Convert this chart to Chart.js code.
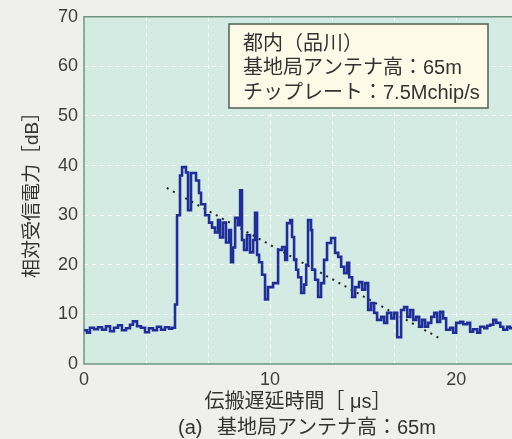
<!DOCTYPE html>
<html>
<head>
<meta charset="utf-8">
<script src="https://cdn.jsdelivr.net/npm/chart.js@4.4.1/dist/chart.umd.min.js"></script>
<style>
  html, body { margin: 0; padding: 0; background: #f0f0ee; }
  #wrap { width: 512px; height: 439px; position: relative; }
</style>
</head>
<body>
<div id="wrap"><canvas id="delayChart" width="512" height="439"></canvas></div>
<script>
// 遅延プロファイル（読み取り値）: 遅延時間 [μs] と相対受信電力 [dB]
const delays = [
  0.00, 0.16, 0.32, 0.54, 0.75, 0.97, 1.18, 1.40, 1.61, 1.83, 2.04, 2.26, 2.47, 2.63, 2.85, 3.06,
  3.28, 3.49, 3.71, 3.92, 4.14, 4.35, 4.57, 4.73, 4.89, 5.00, 5.16, 5.27, 5.48, 5.59, 5.75, 6.02,
  6.18, 6.29, 6.51, 6.72, 6.88, 7.04, 7.20, 7.31, 7.47, 7.63, 7.80, 7.90, 8.01, 8.12, 8.28, 8.39,
  8.49, 8.60, 8.76, 8.92, 9.09, 9.19, 9.30, 9.41, 9.57, 9.73, 9.89, 10.16, 10.43, 10.65, 10.81, 10.91,
  11.08, 11.18, 11.29, 11.40, 11.51, 11.67, 11.83, 11.94, 12.04, 12.20, 12.26, 12.42, 12.58, 12.74, 12.90, 13.06,
  13.28, 13.49, 13.66, 13.82, 13.98, 14.14, 14.25, 14.41, 14.57, 14.78, 14.95, 15.11, 15.27, 15.43, 15.59, 15.75,
  15.97, 16.13, 16.29, 16.51, 16.67, 16.83, 17.04, 17.20, 17.37, 17.53, 17.69, 17.85, 18.01, 18.17, 18.33, 18.49,
  18.66, 18.82, 18.98, 19.14, 19.30, 19.46, 19.68, 19.84, 20.00, 20.22, 20.38, 20.59, 20.75, 20.91, 21.13, 21.29,
  21.51, 21.67, 21.83, 21.99, 22.15, 22.37, 22.53, 22.74, 22.90, 23.00
];
const power = [
  6.8, 6.3, 7.3, 7.0, 7.4, 6.9, 7.6, 6.6, 7.3, 7.8, 6.8, 7.2, 7.9, 8.6, 7.6, 7.3,
  6.4, 7.2, 6.8, 7.5, 6.9, 7.4, 7.1, 7.3, 12.0, 30.0, 38.0, 39.7, 38.6, 31.0, 38.5, 37.0,
  34.5, 32.2, 30.0, 28.5, 27.5, 26.5, 29.0, 25.5, 28.5, 24.5, 27.0, 20.5, 23.5, 29.5, 28.0, 35.0,
  25.0, 23.0, 26.0, 22.5, 25.0, 30.5, 22.0, 20.5, 18.0, 13.0, 15.5, 16.3, 23.0, 23.6, 21.0, 28.4,
  29.0, 25.6, 21.0, 19.0, 17.5, 14.3, 16.0, 20.0, 29.0, 27.0, 19.0, 17.0, 13.5, 16.3, 21.0, 24.4,
  25.4, 22.4, 21.6, 19.6, 18.3, 20.4, 17.5, 13.5, 15.5, 16.5, 15.0, 16.3, 10.9, 12.3, 10.3, 8.9,
  9.5, 8.3, 10.3, 9.2, 10.3, 5.4, 10.9, 11.5, 9.5, 10.9, 8.9, 9.5, 7.5, 8.9, 7.5, 8.3,
  9.5, 10.3, 8.5, 10.5, 9.2, 6.9, 7.3, 6.3, 8.3, 8.5, 8.0, 8.3, 6.5, 7.0, 6.3, 7.5,
  7.2, 7.7, 7.9, 8.9, 8.3, 7.5, 6.9, 7.5, 7.2, 7.2
];
// 回帰直線（点線）の両端
const fitDelays = [4.45, 19.1];
const fitPower = [35.5, 5.2];

const xTicksLabeled = [0, 10, 20];
const infoLines = ['都内（品川）', '基地局アンテナ高：65m', 'チップレート：7.5Mchip/s'];
const captionTag = '(a)';
const captionText = '基地局アンテナ高：65m';

const FONT = '"Liberation Sans", "Noto Sans CJK JP", sans-serif';

// 背景・枠・注記ボックス・図番号
const decorPlugin = {
  id: 'decor',
  beforeDraw(chart) {
    const { ctx, chartArea: a } = chart;
    ctx.save();
    ctx.fillStyle = '#efefed';
    ctx.fillRect(0, 0, chart.width, chart.height);
    ctx.fillStyle = '#d4ebe3';
    ctx.fillRect(a.left, a.top, a.right - a.left, a.bottom - a.top);
    ctx.restore();
  },
  beforeDatasetsDraw(chart) {
    const { ctx, chartArea: a } = chart;
    ctx.save();
    ctx.strokeStyle = '#6e9484';
    ctx.lineWidth = 1.5;
    ctx.beginPath();
    ctx.moveTo(a.right, a.top);
    ctx.lineTo(a.left, a.top);
    ctx.lineTo(a.left, a.bottom);
    ctx.lineTo(a.right, a.bottom);
    ctx.stroke();
    ctx.restore();
  },
  afterDraw(chart) {
    const { ctx } = chart;
    ctx.save();
    // 注記ボックス
    ctx.fillStyle = '#fdfbe8';
    ctx.fillRect(229, 24, 259, 84);
    ctx.strokeStyle = '#4f5f52';
    ctx.lineWidth = 1.5;
    ctx.strokeRect(229, 24, 259, 84);
    ctx.fillStyle = '#333';
    ctx.font = '20px ' + FONT;
    ctx.textBaseline = 'middle';
    infoLines.forEach((t, i) => ctx.fillText(t, 243, 44 + i * 24.5));
    // 図番号
    ctx.fillText(captionTag, 178, 428);
    ctx.fillText(captionText, 217, 428);
    ctx.restore();
  }
};

new Chart(document.getElementById('delayChart'), {
  type: 'line',
  data: {
    datasets: [
      {
        data: delays.map((d, i) => ({ x: d, y: power[i] })),
        borderColor: '#1f2e98',
        borderWidth: 2.6,
        stepped: true,
        pointRadius: 0,
        fill: false
      },
      {
        data: fitDelays.map((d, i) => ({ x: d, y: fitPower[i] })),
        borderColor: '#222',
        borderWidth: 2,
        borderDash: [2, 5],
        pointRadius: 0,
        fill: false
      }
    ]
  },
  options: {
    responsive: false,
    animation: false,
    layout: { padding: { top: 15, right: 0, bottom: 0, left: 0 } },
    plugins: { legend: { display: false }, tooltip: { enabled: false } },
    scales: {
      x: {
        type: 'linear',
        min: 0,
        max: 23,
        afterFit: s => { s.height = 75; },
        grid: { color: 'rgba(255,255,255,0.85)', lineWidth: 1, drawTicks: false },
        border: { display: false, dash: [4, 4] },
        ticks: {
          stepSize: 10 / 3,
          includeBounds: false,
          autoSkip: false,
          maxRotation: 0,
          padding: 5,
          color: '#3d3d3d',
          font: { family: FONT, size: 18 },
          callback: v => {
            const hit = xTicksLabeled.find(t => Math.abs(t - v) < 1e-6);
            return hit === undefined ? '' : String(hit);
          }
        },
        title: {
          display: true,
          text: '伝搬遅延時間［ μs］',
          color: '#333',
          font: { family: FONT, size: 20 },
          padding: { top: 0, bottom: 25 }
        }
      },
      y: {
        min: 0,
        max: 70,
        afterFit: s => { s.width = 84; },
        grid: { color: 'rgba(255,255,255,0.85)', lineWidth: 1, drawTicks: false },
        border: { display: false, dash: [4, 4] },
        ticks: {
          stepSize: 10,
          padding: 6,
          color: '#3d3d3d',
          font: { family: FONT, size: 18 }
        },
        title: {
          display: true,
          text: '相対受信電力［dB］',
          color: '#333',
          font: { family: FONT, size: 19 },
          padding: { top: 21, bottom: 0 }
        }
      }
    }
  },
  plugins: [decorPlugin]
});
</script>
</body>
</html>
